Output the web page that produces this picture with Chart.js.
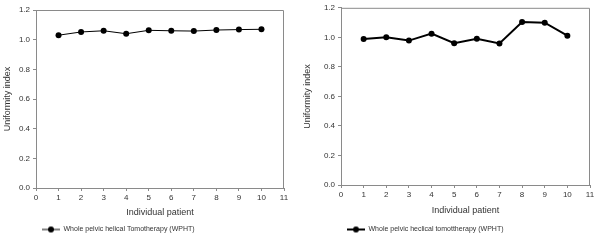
<!DOCTYPE html>
<html lang="en">
<head>
  <meta charset="UTF-8">
  <title>Uniformity index - WPHT</title>
  <script src="https://cdn.jsdelivr.net/npm/chart.js"></script>
  <style>
    body { margin: 0; background: white; }
    .wrap { display: flex; width: 600px; height: 245px; }
    .box { width: 300px; height: 245px; position: relative; }
  </style>
</head>
<body>
<div class="wrap">
  <div class="box"><canvas id="leftChart"></canvas></div>
  <div class="box"><canvas id="rightChart"></canvas></div>
</div>

<script>
  // data
  const patients = [1, 2, 3, 4, 5, 6, 7, 8, 9, 10];
  const leftValues = [1.03, 1.052, 1.06, 1.04, 1.063, 1.06, 1.058, 1.065, 1.068, 1.07];
  const rightValues = [0.989, 1.0, 0.978, 1.025, 0.96, 0.991, 0.958, 1.104, 1.099, 1.011];
  const leftLabel = "Whole pelvic helical Tomotherapy (WPHT)";
  const rightLabel = "Whole pelvic heclical tomottherapy (WPHT)";
  const yTitle = "Uniformity index";
  const xTitle = "Individual patient";

  const axisColor = "#8a8a8a";
  const textColor = "#333";
  const fontFamily = "'Liberation Sans', Arial, sans-serif";

  // little line+dot symbol for the legend
  function legendSymbol(lineW) {
    const c = document.createElement("canvas");
    c.width = 18; c.height = 8;
    const g = c.getContext("2d");
    g.strokeStyle = "black";
    g.lineWidth = lineW;
    g.beginPath(); g.moveTo(0, 4); g.lineTo(18, 4); g.stroke();
    g.fillStyle = "black";
    g.beginPath(); g.arc(9, 4, 3, 0, Math.PI * 2); g.fill();
    return c;
  }

  // grey top and right frame lines
  const frame = {
    id: "frame",
    afterDraw(chart) {
      const a = chart.chartArea, g = chart.ctx;
      g.save();
      g.strokeStyle = axisColor;
      g.lineWidth = 1;
      g.beginPath();
      g.moveTo(a.left, a.top + 0.5);
      g.lineTo(a.right - 0.5, a.top + 0.5);
      g.lineTo(a.right - 0.5, a.bottom);
      g.stroke();
      g.restore();
    }
  };

  function makeChart(id, values, label, lineW, o) {
    const ctx = document.getElementById(id).getContext("2d");
    return new Chart(ctx, {
      type: "line",
      data: {
        datasets: [{
          label: label,
          data: patients.map((p, i) => ({ x: p, y: values[i] })),
          borderColor: "black",
          backgroundColor: "black",
          borderWidth: lineW,
          pointRadius: 3,
          pointBackgroundColor: "black",
          pointBorderWidth: 0,
          pointStyle: "circle",
          tension: 0
        }]
      },
      options: {
        responsive: true,
        maintainAspectRatio: false,
        animation: false,
        layout: { padding: { top: o.top, right: o.right, bottom: 2, left: 0 } },
        plugins: {
          tooltip: { enabled: false },
          legend: {
            position: "bottom",
            align: "start",
            fullSize: false,
            labels: {
              usePointStyle: true,
              pointStyle: legendSymbol(lineW),
              pointStyleWidth: 18,
              boxHeight: 8,
              padding: 6,
              color: textColor,
              font: { family: fontFamily, size: 7 }
            }
          }
        },
        scales: {
          x: {
            type: "linear",
            min: 0, max: 11,
            afterFit: s => { s.height = o.xh; },
            ticks: { stepSize: 1, color: textColor, padding: 2, font: { family: fontFamily, size: 8 } },
            grid: { drawOnChartArea: false, drawTicks: true, tickLength: 3, color: axisColor },
            border: { color: axisColor },
            title: { display: true, text: xTitle, color: textColor, padding: { top: 3, bottom: o.tb }, font: { family: fontFamily, size: 9 } }
          },
          y: {
            min: 0, max: 1.2,
            afterFit: s => { s.width = o.yw; },
            ticks: { stepSize: 0.2, color: textColor, padding: 3, font: { family: fontFamily, size: 8 },
                     callback: v => v.toFixed(1) },
            grid: { drawOnChartArea: false, drawTicks: true, tickLength: 3, color: axisColor },
            border: { color: axisColor },
            title: { display: true, text: yTitle, color: textColor, padding: { top: 2, bottom: 0 }, font: { family: fontFamily, size: 9 } }
          }
        }
      },
      plugins: [frame]
    });
  }

  makeChart("leftChart", leftValues, leftLabel, 1, { top: 10, right: 16, yw: 36, xh: 32, tb: 2 });
  makeChart("rightChart", rightValues, rightLabel, 2, { top: 6, right: 10, yw: 41, xh: 35, tb: 4 });
</script>
</body>
</html>
